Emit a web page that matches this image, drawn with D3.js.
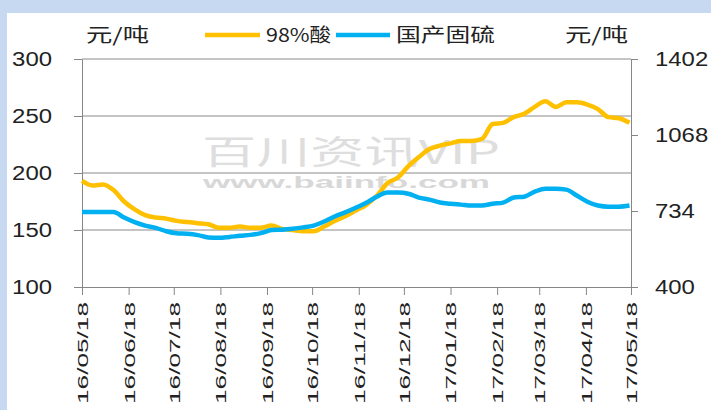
<!DOCTYPE html>
<html>
<head>
<meta charset="utf-8">
<script src="https://cdn.jsdelivr.net/npm/d3@7"></script>
<style>
  body { margin: 0; background: #fff; }
  svg { display: block; }
</style>
</head>
<body>
<script>
// weekly observations
const dates = [
  '2016-05-18', '2016-05-25', '2016-06-01', '2016-06-08', '2016-06-15', '2016-06-22', '2016-06-29',
  '2016-07-06', '2016-07-13', '2016-07-20', '2016-07-27', '2016-08-03', '2016-08-10', '2016-08-17',
  '2016-08-24', '2016-08-31', '2016-09-07', '2016-09-14', '2016-09-21', '2016-09-28', '2016-10-05',
  '2016-10-12', '2016-10-19', '2016-10-26', '2016-11-02', '2016-11-09', '2016-11-16', '2016-11-23',
  '2016-11-30', '2016-12-07', '2016-12-14', '2016-12-21', '2016-12-28', '2017-01-04', '2017-01-11',
  '2017-01-18', '2017-01-25', '2017-02-01', '2017-02-08', '2017-02-15', '2017-02-22', '2017-03-01',
  '2017-03-08', '2017-03-15', '2017-03-22', '2017-03-29', '2017-04-05', '2017-04-12', '2017-04-19',
  '2017-04-26', '2017-05-03', '2017-05-10', '2017-05-17'
];

// 98%酸 (left axis)
const acid = [
  193, 189, 190, 185, 175, 168, 163, 161, 160, 158,
  157, 156, 155, 152, 152, 153, 152, 152, 154, 151,
  150, 149, 149, 153, 158, 162, 167, 172, 180, 191,
  196, 206, 214, 221, 224, 226, 228, 228, 230, 243,
  244, 249, 252, 258, 263, 258, 262, 262, 260, 256,
  249, 248, 244
];

// 国产固硫 (right axis)
const sulfur = [
  730, 730, 730, 730, 705, 685, 670, 660, 645, 636,
  634, 628, 618, 616, 620, 625, 629, 637, 650, 652,
  656, 662, 670, 688, 710, 728, 748, 770, 797, 815,
  815, 810, 793, 784, 771, 766, 762, 758, 758, 766,
  771, 793, 797, 819, 832, 832, 828, 802, 775, 758,
  753, 753, 758
];

const xTicks = [
  '2016-05-18', '2016-06-18', '2016-07-18', '2016-08-18', '2016-09-18', '2016-10-18', '2016-11-18',
  '2016-12-18', '2017-01-18', '2017-02-18', '2017-03-18', '2017-04-18', '2017-05-18'
];
const leftTicks = [100, 150, 200, 250, 300];
const rightTicks = [400, 734, 1068, 1402];

const W = 711, H = 410;
const plotL = 82, plotR = 631, plotT = 59, plotB = 287;

const parse = d3.timeParse('%Y-%m-%d');
const fmt = d3.timeFormat('%y/%m/%d');

const x = d3.scaleTime()
  .domain([parse('2016-05-18'), parse('2017-05-18')])
  .range([plotL, plotR]);
const yL = d3.scaleLinear().domain([100, 300]).range([plotB, plotT]);
const yR = d3.scaleLinear().domain([400, 1402]).range([plotB, plotT]);

const svg = d3.select('body').append('svg')
  .attr('width', W)
  .attr('height', H);

// stretch text to a wider look like the original
function widen(sel, fn) {
  sel.each(function (d, i) {
    d3.select(this)
      .attr('textLength', fn(this.textContent, d, i))
      .attr('lengthAdjust', 'spacingAndGlyphs');
  });
}

// panel background
svg.append('rect').attr('width', W).attr('height', H).attr('fill', '#c6d9f1');
svg.append('rect').attr('x', 7).attr('y', 13).attr('width', W - 7).attr('height', H - 13).attr('fill', '#fff');

// watermark
const wm1 = svg.append('text')
  .attr('x', 202).attr('y', 163.5)
  .attr('font-family', '"Noto Sans CJK SC", sans-serif')
  .attr('font-size', 33)
  .attr('fill', '#dedede')
  .text('百川资讯VIP');
widen(wm1, () => 298);
const wm2 = svg.append('text')
  .attr('x', 203).attr('y', 188)
  .attr('font-family', '"Liberation Sans", Arial, sans-serif')
  .attr('font-size', 16)
  .attr('font-weight', 'bold')
  .attr('fill', '#d8d8d8')
  .text('www.baiinfo.com');
widen(wm2, () => 287);

// grid
svg.append('g')
  .selectAll('line')
  .data(leftTicks.slice(1))
  .enter()
  .append('line')
  .attr('x1', plotL).attr('x2', plotR)
  .attr('y1', d => yL(d)).attr('y2', d => yL(d))
  .attr('stroke', '#8a8a8a')
  .attr('stroke-width', 1);

const axisColor = '#868686';
const textColor = '#222';

// left axis
const gL = svg.append('g')
  .attr('transform', `translate(${plotL},0)`)
  .call(d3.axisLeft(yL).tickValues(leftTicks).tickSize(8).tickSizeOuter(0).tickPadding(22));
// right axis
const gR = svg.append('g')
  .attr('transform', `translate(${plotR},0)`)
  .call(d3.axisRight(yR).tickValues(rightTicks).tickFormat(d3.format('d'))
    .tickSize(7).tickSizeOuter(0).tickPadding(17));
// bottom axis
const gX = svg.append('g')
  .attr('transform', `translate(0,${plotB})`)
  .call(d3.axisBottom(x).tickValues(xTicks.map(parse)).tickFormat(fmt).tickSize(8).tickSizeOuter(0));

[gL, gR, gX].forEach(g => {
  g.select('.domain').attr('stroke', axisColor);
  g.selectAll('.tick line').attr('stroke', axisColor);
  g.selectAll('text')
    .attr('font-family', '"Liberation Sans", Arial, sans-serif')
    .attr('fill', textColor);
});
gL.selectAll('text').attr('font-size', 20);
gR.selectAll('text').attr('font-size', 20);
widen(gL.selectAll('text'), t => t.length * 13.3);
widen(gR.selectAll('text'), t => t.length * 13.3);

gX.selectAll('text')
  .attr('font-size', 15)
  .attr('transform', 'rotate(-90)')
  .attr('text-anchor', 'end')
  .attr('x', -15)
  .attr('y', 0)
  .attr('dy', '0.36em');
widen(gX.selectAll('text'), () => 102);

// series
const rows = dates.map((d, i) => ({ date: parse(d), acid: acid[i], sulfur: sulfur[i] }));

const lineAcid = d3.line().x(d => x(d.date)).y(d => yL(d.acid)).curve(d3.curveMonotoneX);
const lineSulfur = d3.line().x(d => x(d.date)).y(d => yR(d.sulfur)).curve(d3.curveMonotoneX);

svg.append('path')
  .datum(rows)
  .attr('d', lineAcid)
  .attr('fill', 'none')
  .attr('stroke', '#ffc000')
  .attr('stroke-width', 4.5)
  .attr('stroke-linejoin', 'round');

svg.append('path')
  .datum(rows)
  .attr('d', lineSulfur)
  .attr('fill', 'none')
  .attr('stroke', '#00b0f0')
  .attr('stroke-width', 4.5)
  .attr('stroke-linejoin', 'round');

// header: units and legend
const cjk = '"Noto Sans CJK SC", sans-serif';
const header = [
  { text: '元/吨', x: 86, w: 63 },
  { text: '98%酸', x: 266, w: 65 },
  { text: '国产固硫', x: 396, w: 99 },
  { text: '元/吨', x: 565, w: 63 }
];
const hd = svg.append('g')
  .selectAll('text')
  .data(header)
  .enter()
  .append('text')
  .attr('x', d => d.x)
  .attr('y', 42)
  .attr('font-family', cjk)
  .attr('font-size', 19)
  .attr('fill', textColor)
  .text(d => d.text);
widen(hd, (t, d) => d.w);

const legend = [
  { x1: 205, x2: 260, color: '#ffc000' },
  { x1: 336, x2: 390, color: '#00b0f0' }
];
svg.append('g')
  .selectAll('line')
  .data(legend)
  .enter()
  .append('line')
  .attr('x1', d => d.x1).attr('x2', d => d.x2)
  .attr('y1', 35).attr('y2', 35)
  .attr('stroke', d => d.color)
  .attr('stroke-width', 4.5);
</script>
</body>
</html>
